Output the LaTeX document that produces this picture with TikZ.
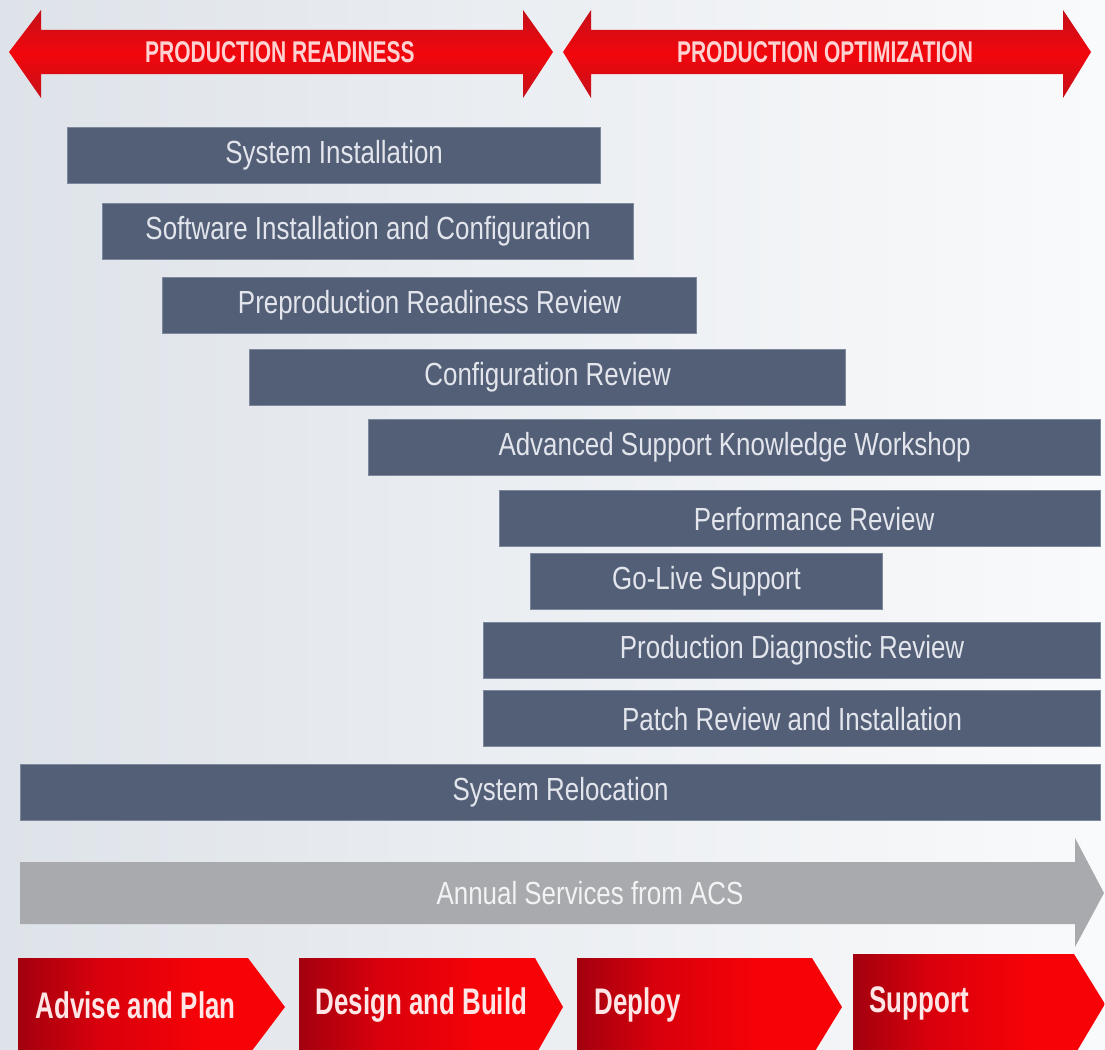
\documentclass[tikz,border=0pt]{standalone}
\usepackage{fontspec}
\setmainfont{Liberation Sans}
\newfontfamily\barfont{Liberation Sans}[FakeStretch=0.81]
\newfontfamily\narrowfont{Liberation Sans}[FakeStretch=0.7]
\definecolor{bgleft}{HTML}{DEE3E9}
\definecolor{bgright}{HTML}{F9FAFB}
\definecolor{barfill}{HTML}{535E77}
\definecolor{baredge}{HTML}{7E889C}
\definecolor{bartext}{HTML}{E2E5EB}
\definecolor{redmain}{HTML}{F2060C}
\definecolor{reddark}{HTML}{C4101A}
\definecolor{chevdark}{HTML}{A3000F}
\definecolor{chevmid}{HTML}{D8000C}
\definecolor{chevbright}{HTML}{F70207}
\definecolor{grayarrow}{HTML}{A8AAAD}
\definecolor{graytext}{HTML}{F2F3F4}
\definecolor{toptext}{HTML}{FFD2D2}
\definecolor{chevtext}{HTML}{FFE6E6}
\pgfdeclarehorizontalshading{chevshade}{100bp}{color(0bp)=(chevdark); color(25bp)=(chevdark); color(40bp)=(chevmid); color(60bp)=(chevbright); color(100bp)=(chevbright)}
\tikzset{
  bar/.style={fill=barfill, draw=baredge, line width=1.2pt, text=bartext,
    font=\barfont\fontsize{32}{36}\selectfont, anchor=north west,
    minimum height=56pt, inner sep=0pt},
  redarrow/.style={top color=reddark, bottom color=reddark, middle color=redmain},
  toplabel/.style={text=toptext, font=\narrowfont\bfseries\fontsize{30}{34}\selectfont},
  chevron/.style={shading=chevshade},
  chevlabel/.style={text=chevtext, anchor=west, font=\narrowfont\bfseries\fontsize{37}{40}\selectfont},
  acslabel/.style={text=graytext, font=\barfont\fontsize{32}{36}\selectfont}
}
\begin{document}
\begin{tikzpicture}[x=1pt,y=-1pt]
\useasboundingbox (0,0) rectangle (1105,1049);
\clip (0,0) rectangle (1105,1049);
\shade[left color=bgleft, right color=bgright] (0,0) rectangle (1105,1049);

% top double arrows
\shade[redarrow] (9,52) -- (41,10) -- (41,30) -- (523,30) -- (523,10) -- (553,52)
  -- (523,98) -- (523,74) -- (41,74) -- (41,98) -- cycle;
\node[toplabel] (ready) at (280,52) {PRODUCTION READINESS};
\shade[redarrow] (563,52) -- (591,10) -- (591,30) -- (1063,30) -- (1063,10) -- (1091,52)
  -- (1063,98) -- (1063,74) -- (591,74) -- (591,98) -- cycle;
\node[toplabel] (optim) at (825,52) {PRODUCTION OPTIMIZATION};

% bars
\node[bar, minimum width=533pt] (si) at (67,127) {System Installation};
\node[bar, minimum width=531pt] (sic) at (102,203) {Software Installation and Configuration};
\node[bar, minimum width=534pt] (prr) at (162,277) {Preproduction Readiness Review};
\node[bar, minimum width=596pt] (cr) at (249,349) {Configuration Review};
\node[bar, minimum width=732pt] (askw) at (368,419) {Advanced Support Knowledge Workshop};
\node[bar, minimum width=601pt] (perf) at (499,490) {\hspace*{28pt}Performance Review};
\node[bar, minimum width=352pt] (gls) at (530,553) {Go-Live Support};
\node[bar, minimum width=617pt] (pdr) at (483,622) {Production Diagnostic Review};
\node[bar, minimum width=617pt] (pri) at (483,690) {Patch Review and Installation};
\node[bar, minimum width=1080pt] (sr) at (20,764) {System Relocation};

% annual services arrow
\fill[grayarrow] (20,862) -- (1075,862) -- (1075,838) -- (1104,893) -- (1075,947)
  -- (1075,924) -- (20,924) -- cycle;
\node[acslabel] (acs) at (590,893) {Annual Services from ACS};

% phase chevrons
\shade[chevron] (18,958) -- (248,958) -- (285,1007) -- (248,1056) -- (18,1056) -- cycle;
\node[chevlabel] (advise) at (32,1005) {Advise and Plan};
\shade[chevron] (299,958) -- (535,958) -- (563,1007) -- (535,1056) -- (299,1056) -- cycle;
\node[chevlabel] (design) at (312,1005) {Design and Build};
\shade[chevron] (577,958) -- (812,958) -- (842,1007) -- (812,1056) -- (577,1056) -- cycle;
\node[chevlabel] (deploy) at (591,1005) {Deploy};
\shade[chevron] (853,954) -- (1074,954) -- (1105,1004) -- (1074,1056) -- (853,1056) -- cycle;
\node[chevlabel] (support) at (866,1003) {Support};
\end{tikzpicture}
\end{document}
